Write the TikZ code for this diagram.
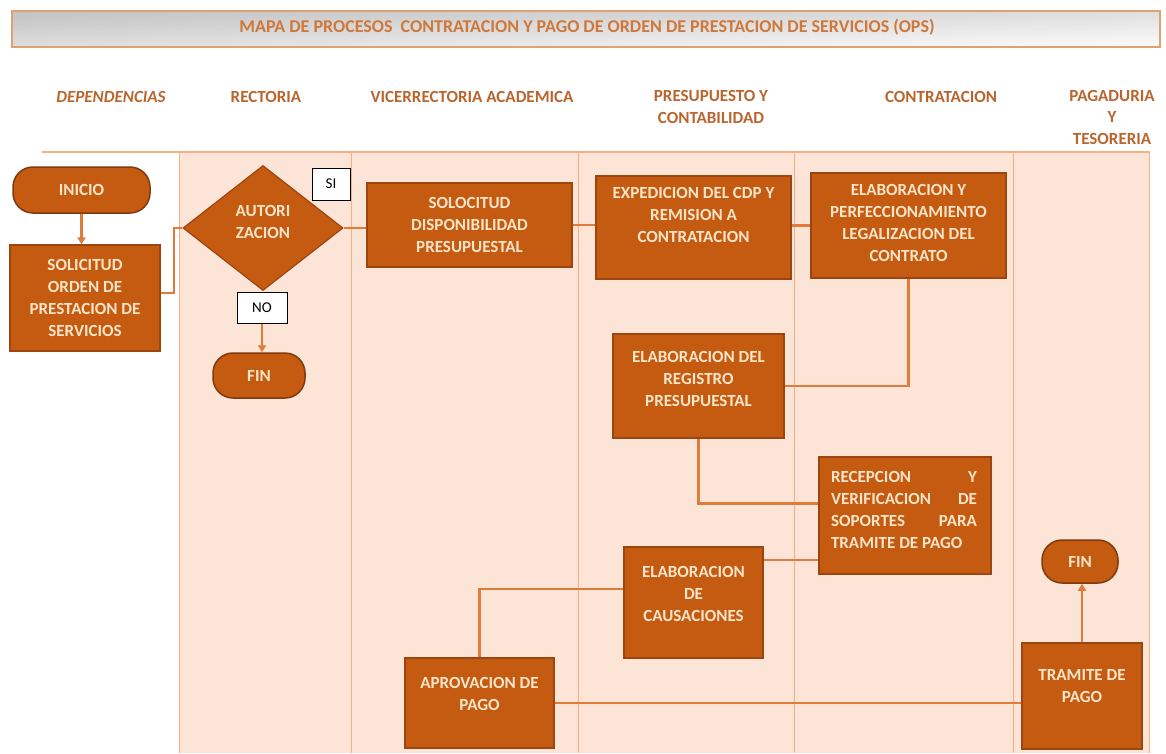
\documentclass[tikz,border=0pt]{standalone}
\usepackage{fontspec}
\setmainfont{Carlito}
\usetikzlibrary{shapes.geometric,arrows.meta,calc}
\definecolor{boxfill}{HTML}{C55A11}
\definecolor{boxedge}{HTML}{9C4510}
\definecolor{termedge}{HTML}{7F3A0F}
\definecolor{boxtext}{HTML}{FBE5C8}
\definecolor{conncol}{HTML}{E07B39}
\definecolor{lanefill}{HTML}{FCE4D6}
\definecolor{laneline}{HTML}{F4B183}
\definecolor{headcol}{HTML}{B9652E}
\definecolor{titlecol}{HTML}{D0773A}
\definecolor{titleedge}{HTML}{E0A070}
\tikzset{
  proc/.style={rectangle, fill=boxfill, draw=boxedge, line width=1.2pt, inner sep=0pt},
  term/.style={rectangle, rounded corners=20pt, fill=boxfill, draw=termedge, line width=1.5pt, inner sep=0pt},
  dec/.style={diamond, fill=boxfill, draw=boxedge, line width=1.2pt, inner sep=0pt},
  ptext/.style={text=boxtext, font=\fontsize{17}{22}\selectfont\bfseries, align=center, inner sep=0pt},
  headtext/.style={text=headcol, font=\fontsize{17}{22}\selectfont\bfseries, align=center, inner sep=0pt},
  tagbox/.style={rectangle, draw=black, fill=white, line width=1pt, font=\fontsize{15}{18}\selectfont, inner sep=0pt},
  conn/.style={draw=conncol, line width=2.2pt},
  arr/.style={conn, -{Triangle[length=7pt,width=8pt]}},
  lane/.style={draw=laneline, line width=1pt}
}
\begin{document}
\begin{tikzpicture}[x=1pt,y=-1pt]
\path[use as bounding box, fill=white] (0,0) rectangle (1166,753);

% title bar
\shade[top color=gray!50, bottom color=gray!5] (12,11) rectangle (1160,47);
\shade[left color=gray!45, right color=white, opacity=0.5] (12,11) rectangle (1160,47);
\draw[titleedge, line width=1.4pt] (12,11) rectangle (1160,47);
\node[text=titlecol, font=\fontsize{18}{20}\selectfont\bfseries, inner sep=0pt] (title) at (587,27) {MAPA DE PROCESOS\ \ CONTRATACION Y PAGO DE ORDEN DE PRESTACION DE SERVICIOS (OPS)};

% headers
\node[headtext, font=\fontsize{17}{22}\selectfont\bfseries\itshape] (h1) at (111,97) {DEPENDENCIAS};
\node[headtext] (h2) at (266,97) {RECTORIA};
\node[headtext] (h3) at (472,97) {VICERRECTORIA ACADEMICA};
\node[headtext, anchor=north] (h4) at (711,90) {PRESUPUESTO Y\\CONTABILIDAD};
\node[headtext] (h5) at (941,97) {CONTRATACION};
\node[headtext, anchor=north, font=\fontsize{17}{21.5}\selectfont\bfseries] (h6) at (1112,90) {PAGADURIA\\Y\\TESORERIA};

% lanes
\fill[lanefill] (179,152) rectangle (1150,753);
\draw[lane, line width=1.5pt] (42,152) -- (1150,152);
\foreach \xx in {179,351,578,794,1013,1149} {
  \draw[lane] (\xx,152) -- (\xx,753);
}

% nodes
\node[term, minimum width=137pt, minimum height=46pt] (inicio) at (81.5,190) {};
\node[ptext] (inicioT) at (inicio) {INICIO};

\node[proc, minimum width=150pt, minimum height=106pt] (sol) at (85,298) {};
\node[ptext] (solT) at (sol) {SOLICITUD\\ORDEN DE\\PRESTACION DE\\SERVICIOS};

\node[dec, minimum width=160pt, minimum height=125pt] (aut) at (263,228) {};
\node[ptext] (autT) at (263,222) {AUTORI\\ZACION};

\node[tagbox, minimum width=38pt, minimum height=32pt] (si) at (331,184) {SI};
\node[tagbox, minimum width=50pt, minimum height=31pt] (no) at (262,307.5) {NO};

\node[term, minimum width=92pt, minimum height=45pt] (fin1) at (259,375.5) {};
\node[ptext] (fin1T) at (fin1) {FIN};

\node[proc, minimum width=205pt, minimum height=84pt] (sdp) at (469.5,225) {};
\node[ptext] (sdpT) at (sdp) {SOLOCITUD\\DISPONIBILIDAD\\PRESUPUESTAL};

\node[proc, minimum width=195pt, minimum height=103pt] (cdp) at (693.5,227.5) {};
\node[ptext] (cdpT) at (693.5,215) {EXPEDICION DEL CDP Y\\REMISION A\\CONTRATACION};

\node[proc, minimum width=195pt, minimum height=105pt] (elab) at (908.5,225.5) {};
\node[ptext] (elabT) at (908.5,223) {ELABORACION Y\\PERFECCIONAMIENTO\\LEGALIZACION DEL\\CONTRATO};

\node[proc, minimum width=171pt, minimum height=104pt] (reg) at (698.5,386) {};
\node[ptext] (regT) at (698.5,379) {ELABORACION DEL\\REGISTRO\\PRESUPUESTAL};

\node[proc, minimum width=172pt, minimum height=117pt] (rec) at (905,515.5) {};
\node[ptext, align=left] (recT) at (904,510) {\hbox to 146pt{RECEPCION\hfill Y}\\\hbox to 146pt{VERIFICACION\hfill DE}\\\hbox to 146pt{SOPORTES\hfill PARA}\\\hbox to 146pt{TRAMITE DE PAGO\hfill}};

\node[proc, minimum width=139pt, minimum height=111pt] (caus) at (693.5,602.5) {};
\node[ptext] (causT) at (693.5,593.5) {ELABORACION\\DE\\CAUSACIONES};

\node[proc, minimum width=149pt, minimum height=90pt] (apro) at (479.5,703) {};
\node[ptext] (aproT) at (479.5,694) {APROVACION DE\\PAGO};

\node[proc, minimum width=120pt, minimum height=106pt] (tram) at (1082,696) {};
\node[ptext] (tramT) at (1082,686) {TRAMITE DE\\PAGO};

\node[term, minimum width=76pt, minimum height=43pt] (fin2) at (1080,561.5) {};
\node[ptext] (fin2T) at (fin2) {FIN};

% connectors
\draw[arr] (inicio.south) -- (inicio.south |- sol.north);
\draw[conn] ([yshift=5pt]sol.east) -- ++(13,0) |- (aut.west);
\draw[conn] (aut.east) -- (sdp.west |- aut.east);
\draw[conn] (sdp.east) -- (cdp.west |- sdp.east);
\draw[conn] (cdp.east |- elab.west) -- (elab.west);
\draw[conn] (elab.south) |- (reg.east);
\draw[conn] (reg.south) |- ([yshift=12pt]rec.west);
\draw[conn] ([yshift=-44.5pt]rec.west) -- ([yshift=-44.5pt]rec.west -| caus.east);
\draw[conn] ([yshift=13.5pt]caus.west) -| (apro.north);
\draw[conn] (apro.east) -- (apro.east -| tram.west);
\draw[arr] (tram.north) -- (tram.north |- fin2.south);
\draw[arr] (no.south) -- (no.south |- fin1.north);
\end{tikzpicture}
\end{document}
